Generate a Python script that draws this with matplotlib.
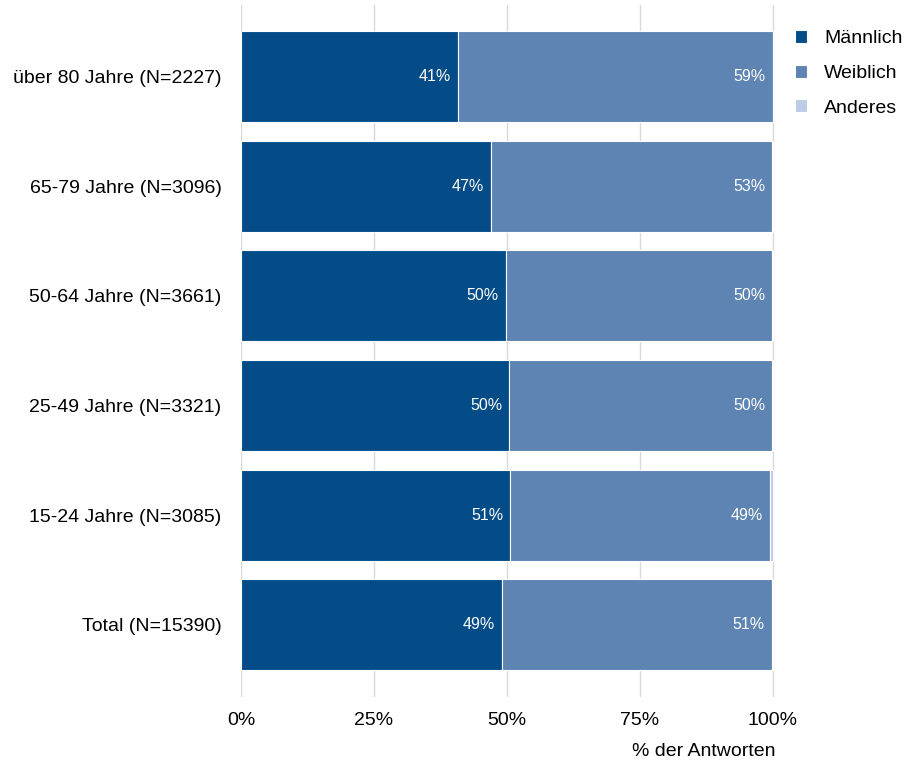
"""Stacked horizontal bars: gender share of responses per age group."""
import matplotlib

matplotlib.use("Agg")
import matplotlib.pyplot as plt
import numpy as np

plt.rcParams["font.family"] = ["Liberation Sans", "DejaVu Sans"]

# data, top row first
groups = [
    "über 80 Jahre (N=2227)",
    "65-79 Jahre (N=3096)",
    "50-64 Jahre (N=3661)",
    "25-49 Jahre (N=3321)",
    "15-24 Jahre (N=3085)",
    "Total (N=15390)",
]
maennlich = [40.8, 47.0, 49.8, 50.4, 50.6, 49.1]
weiblich = [59.2, 52.9, 50.1, 49.5, 48.8, 50.7]
anderes = [0.0, 0.1, 0.1, 0.1, 0.6, 0.2]
series_names = ["Männlich", "Weiblich", "Anderes"]
colors = ["#034c87", "#5d84b2", "#bccbe6"]

fig = plt.figure(figsize=(9.07, 7.63), dpi=100)
ax = fig.add_axes([0.2657, 0.0865, 0.5888, 0.9069])

y = np.arange(len(groups))
left = np.zeros(len(groups))
handles = []
for vals, col, name in zip([maennlich, weiblich, anderes], colors, series_names):
    vals = np.array(vals)
    h = ax.barh(y, vals, left=left, height=0.83, color=col,
                edgecolor="white", linewidth=0.8, label=name, zorder=2)
    handles.append(h)
    for yi, l, v in zip(y, left, vals):
        if v >= 5:
            ax.text(l + v - 1.3, yi, f"{v:.0f}%", ha="right", va="center",
                    color="white", fontsize=11.5, zorder=3)
    left += vals

ax.set_yticks(y)
ax.set_yticklabels(groups, fontsize=14)
ax.set_ylim(5.66, -0.652)
ax.set_xlim(0, 100.4)
ax.set_xticks([0, 25, 50, 75, 100])
ax.set_xticklabels(["0%", "25%", "50%", "75%", "100%"], fontsize=14)
ax.tick_params(length=0, pad=14)
ax.tick_params(axis="x", pad=11)
ax.grid(axis="x", color="#d9d9d9", linewidth=1, zorder=0)
ax.set_axisbelow(True)
for s in ax.spines.values():
    s.set_visible(False)

ax.set_xlabel("% der Antworten", fontsize=14, loc="right", labelpad=10)

fig.legend(handles, series_names, loc="upper left", bbox_to_anchor=(0.857, 0.984),
           frameon=False, fontsize=14, handlelength=0.65, handleheight=0.65,
           handletextpad=0.87, labelspacing=0.9)

fig.savefig("out.png", dpi=100)
